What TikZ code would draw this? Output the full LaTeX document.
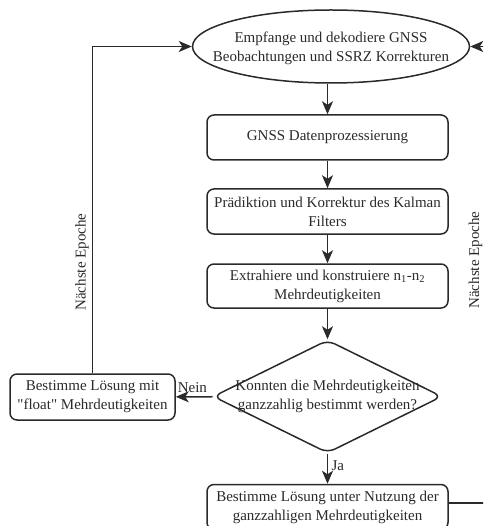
\documentclass[tikz,border=0pt]{standalone}
\usepackage{fontspec}
\setmainfont{Liberation Serif}[Ligatures=TeXOff]
\usetikzlibrary{shapes.geometric,arrows.meta}
\definecolor{ink}{HTML}{2A2A2A}
\begin{document}
\begin{tikzpicture}[x=1pt,y=-1pt,
  every node/.style={font=\fontsize{15}{19}\selectfont, text=ink},
  stepbox/.style={draw=ink, line width=1.5pt, rounded corners=7pt,
    minimum width=241pt, minimum height=45pt, align=center, inner sep=2pt},
  flow/.style={draw=ink, line width=1.5pt,
    -{Stealth[length=13pt,width=11pt,inset=3.5pt]}},
  loopline/.style={draw=ink, line width=1.5pt}]
\useasboundingbox (0,0) rectangle (483,526);
\clip (0,0) rectangle (483,526);

% start: receive observations and corrections
\node[ellipse, draw=ink, line width=1.5pt, minimum width=277pt,
  minimum height=73pt, inner sep=0pt,
  label={[align=center, yshift=-2pt]center:Empfange und dekodiere GNSS\\Beobachtungen und SSRZ Korrekturen}]
  (recv) at (331,46.5) {};

% processing chain
\node[stepbox] (proc) at (327.5,137.5) {GNSS Datenprozessierung};
\node[stepbox] (kalman) at (327.5,211.5) {Prädiktion und Korrektur des Kalman\\Filters};
\node[stepbox, minimum height=44pt] (amb) at (327.5,286) {Extrahiere und konstruiere n\textsubscript{1}-n\textsubscript{2}\\Mehrdeutigkeiten};

% decision
\node[diamond, draw=ink, line width=1.5pt, rounded corners=8pt,
  minimum width=229pt, minimum height=113pt, inner sep=0pt,
  label={[align=center]center:Konnten die Mehrdeutigkeiten\\ganzzahlig bestimmt werden?}]
  (check) at (327.5,396.5) {};

% outcomes
\node[stepbox] (fixed) at (327.5,507) {Bestimme Lösung unter Nutzung der\\ganzzahligen Mehrdeutigkeiten};
\node[stepbox, minimum width=165pt, minimum height=46pt] (float) at (92.5,397) {Bestimme Lösung mit\\"float" Mehrdeutigkeiten};

% main flow
\draw[flow] (recv.south -| proc.north) -- (proc.north);
\draw[flow] (proc) -- (kalman);
\draw[flow] (kalman) -- (amb);
\draw[flow] (amb) -- (check);
\draw[flow] (check) -- node[right, pos=0.4] (ja) {Ja} (fixed);
\draw[flow] (check) -- node[above, pos=0.55] (nein) {Nein} (float);

% loops back to the next epoch
\coordinate (rightrail) at (488,0);
\draw[loopline] (float.north) -- (float.north |- recv.west);
\draw[flow] (float.north |- recv.west) -- (recv.west);
\draw[loopline] ([yshift=4pt]fixed.east) -| (rightrail |- recv.east);
\draw[flow] (rightrail |- recv.east) -- (recv.east);

\node[rotate=90] (epochL) at (82,262) {Nächste Epoche};
\node[rotate=90] (epochR) at (475.5,260) {Nächste Epoche};
\end{tikzpicture}
\end{document}
